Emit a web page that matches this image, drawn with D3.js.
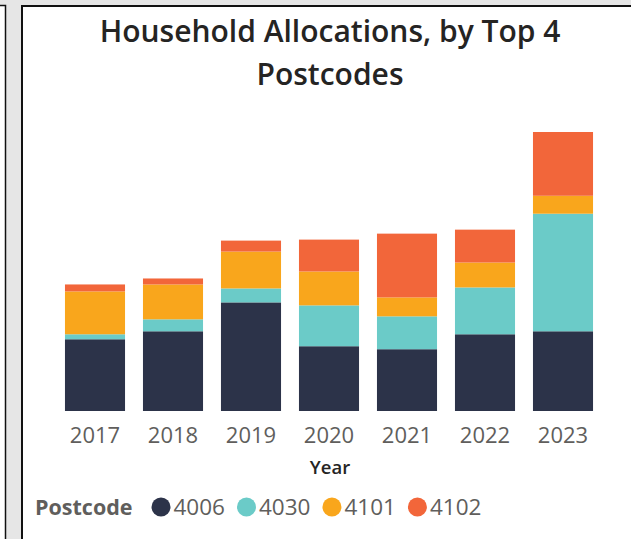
<!DOCTYPE html>
<html>
<head>
<meta charset="utf-8">
<script src="https://cdn.jsdelivr.net/npm/d3@7"></script>
<style>
  html, body { margin: 0; padding: 0; background: #e6e6e6; }
  svg { display: block; }
</style>
</head>
<body>
<svg id="chart" width="631" height="539"></svg>
<script>
// ---------- Data ----------
const years = ['2017', '2018', '2019', '2020', '2021', '2022', '2023'];
const postcodes = ['4006', '4030', '4101', '4102'];
const v4006 = [72, 80, 109, 65, 62, 77, 80];
const v4030 = [5, 12, 14, 41, 33, 47, 118];
const v4101 = [43, 35, 37, 34, 19, 25, 18];
const v4102 = [7, 6, 11, 32, 64, 33, 64];
const colors = ['#2c3349', '#6bcbc8', '#f9a61c', '#f2663a'];

const W = 631, H = 539;
const FONT = '"Open Sans", sans-serif';
const svg = d3.select('#chart');

// ---------- Panel frame ----------
svg.append('rect').attr('x', 0).attr('y', 0).attr('width', W).attr('height', H).attr('fill', '#e6e6e6');
// left neighbour panel edge
svg.append('rect').attr('x', -10).attr('y', 5.5).attr('width', 15.5).attr('height', H)
    .attr('fill', '#fff').attr('stroke', '#111').attr('stroke-width', 1.5);
// main panel
svg.append('rect').attr('x', 22).attr('y', 6).attr('width', W + 20).attr('height', H + 20)
    .attr('fill', '#fff').attr('stroke', '#111').attr('stroke-width', 2);

// ---------- Title ----------
const title = svg.append('text')
    .attr('x', 330).attr('y', 42)
    .attr('text-anchor', 'middle')
    .style('font-family', FONT)
    .style('font-weight', 600)
    .style('font-size', '30px')
    .style('fill', '#252423');
title.append('tspan').attr('x', 330).attr('dy', 0).text('Household Allocations, by Top 4');
title.append('tspan').attr('x', 330).attr('dy', 43).text('Postcodes');

// ---------- Scales ----------
const rows = years.map((y, i) => ({ year: y, '4006': v4006[i], '4030': v4030[i], '4101': v4101[i], '4102': v4102[i] }));
const stack = d3.stack().keys(postcodes)(rows);

const x = d3.scaleBand()
    .domain(years)
    .range([56, 602])
    .paddingInner(0.23)
    .paddingOuter(0.115);

const y = d3.scaleLinear()
    .domain([0, d3.max(stack[stack.length - 1], d => d[1])])
    .range([411, 132]);

const color = d3.scaleOrdinal().domain(postcodes).range(colors);

// ---------- Bars ----------
svg.append('g')
  .selectAll('g')
  .data(stack)
  .join('g')
    .attr('fill', d => color(d.key))
  .selectAll('rect')
  .data(d => d)
  .join('rect')
    .attr('x', d => x(d.data.year))
    .attr('width', x.bandwidth())
    .attr('y', d => y(d[1]))
    .attr('height', d => y(d[0]) - y(d[1]));

// ---------- X axis ----------
const xAxis = svg.append('g')
    .attr('transform', 'translate(0,443)')
    .call(d3.axisBottom(x).tickSize(0).tickPadding(0));
xAxis.select('.domain').remove();
xAxis.selectAll('text')
    .attr('dy', 0)
    .style('font-family', FONT)
    .style('font-size', '22px')
    .style('fill', '#605e5c');

svg.append('text')
    .attr('x', 330).attr('y', 474)
    .attr('text-anchor', 'middle')
    .style('font-family', FONT)
    .style('font-weight', 600)
    .style('font-size', '18.5px')
    .style('fill', '#252423')
    .text('Year');

// ---------- Legend ----------
const legend = svg.append('g').attr('transform', 'translate(0,515)');
legend.append('text')
    .attr('x', 35).attr('y', 0)
    .style('font-family', FONT)
    .style('font-weight', 700)
    .style('font-size', '21.5px')
    .style('fill', '#605e5c')
    .text('Postcode');

let lx = 151.5;
postcodes.forEach(p => {
    legend.append('circle')
        .attr('cx', lx + 9.5).attr('cy', -8).attr('r', 9.5)
        .attr('fill', color(p));
    const t = legend.append('text')
        .attr('x', lx + 22).attr('y', 0)
        .style('font-family', FONT)
        .style('font-size', '22.5px')
        .style('fill', '#605e5c')
        .text(p);
    lx += 22 + t.node().getComputedTextLength() + 12;
});
</script>
</body>
</html>
